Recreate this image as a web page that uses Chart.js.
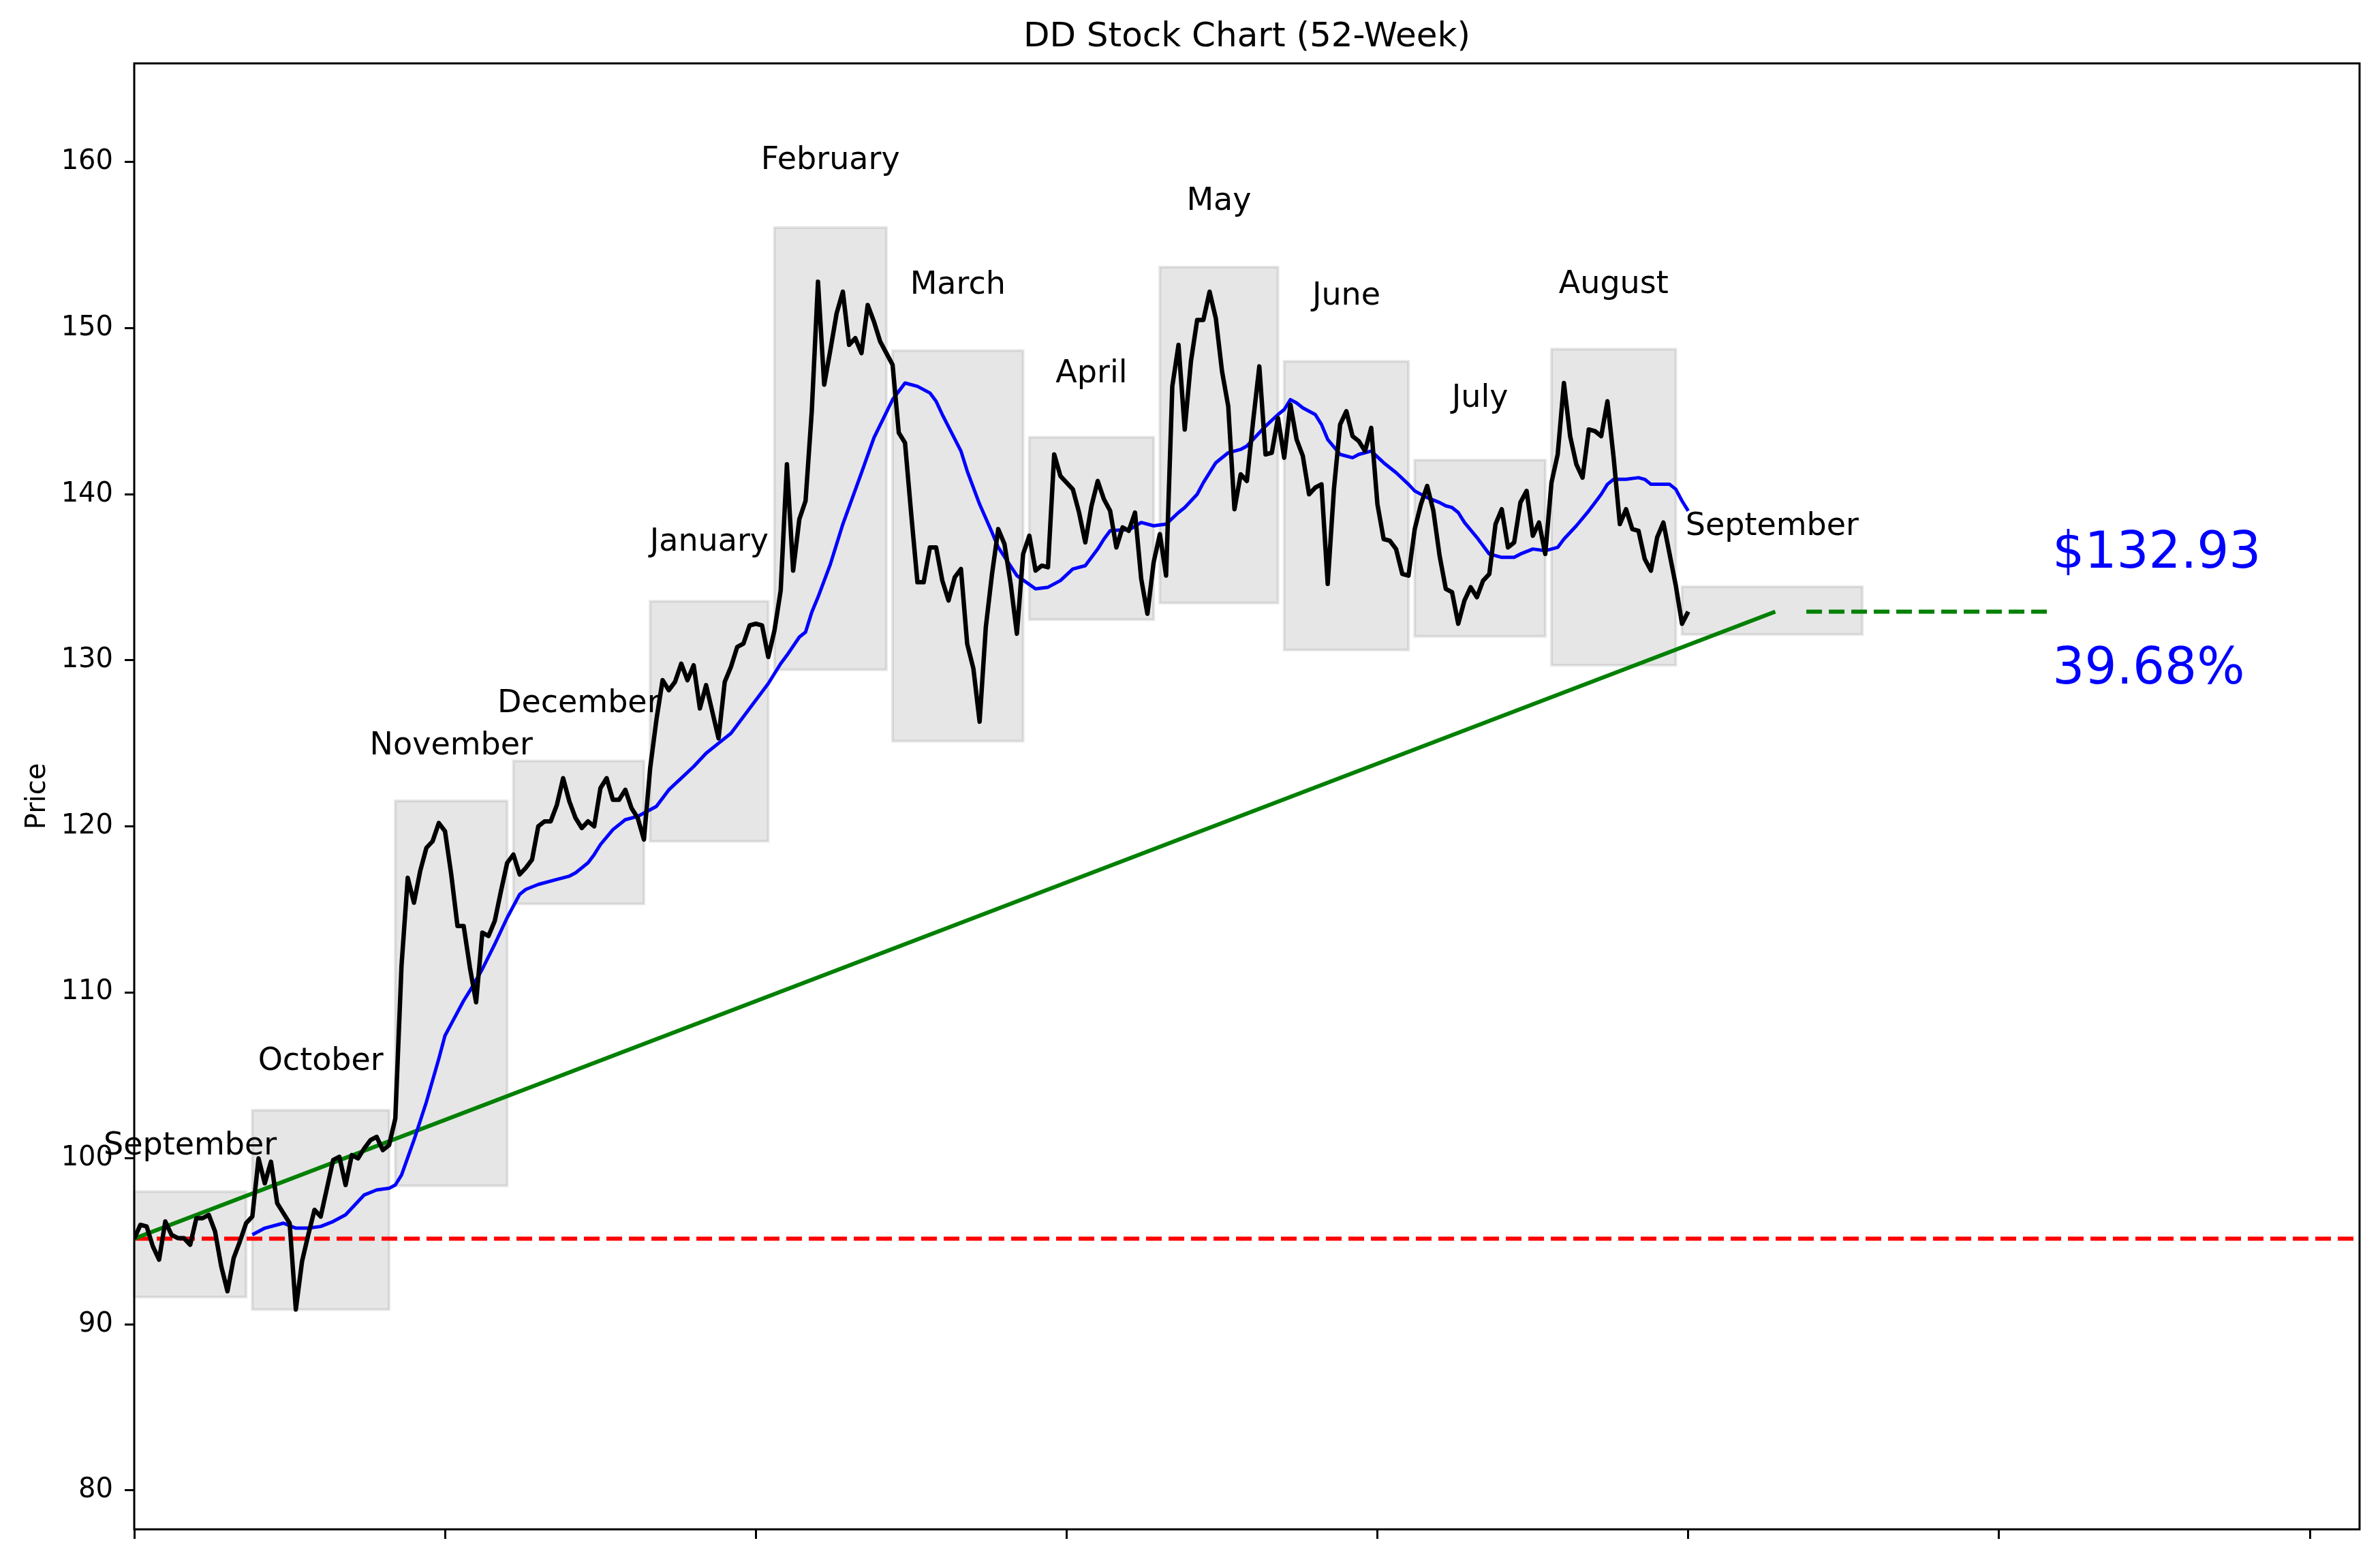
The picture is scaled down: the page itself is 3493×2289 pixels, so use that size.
<!DOCTYPE html>
<html lang="en">
<head>
    <meta charset="UTF-8">
    <title>DD Stock Chart (52-Week)</title>
    <script src="https://cdn.jsdelivr.net/npm/chart.js"></script>
    <style>
        body {
            margin: 0;
            background-color: white;
        }
        #stockChart {
            display: block;
        }
    </style>
</head>
<body>
    <canvas id="stockChart" width="3493" height="2289"></canvas>

    <script>
        // daily closes, one per trading day (index 0..250)
        const closePrices = [
            95.17, 96.0, 95.9, 94.7, 93.9, 96.2, 95.4, 95.2, 95.2, 94.8,
            96.4, 96.4, 96.6, 95.6, 93.5, 92.0, 94.0, 95.0, 96.1, 96.5,
            100.0, 98.5, 99.8, 97.3, 96.7, 96.1, 90.9, 93.8, 95.4, 96.9,
            96.5, 98.2, 99.9, 100.1, 98.4, 100.2, 100.0, 100.6, 101.1, 101.3,
            100.5, 100.8, 102.4, 111.6, 116.9, 115.4, 117.3, 118.7, 119.1, 120.2,
            119.7, 117.1, 114.0, 114.0, 111.5, 109.4, 113.6, 113.4, 114.3, 116.1,
            117.8, 118.3, 117.1, 117.5, 118.0, 120.0, 120.3, 120.3, 121.3, 122.9,
            121.5, 120.5, 119.9, 120.3, 120.0, 122.3, 122.9, 121.6, 121.6, 122.2,
            121.1, 120.5, 119.2, 123.5, 126.4, 128.8, 128.2, 128.7, 129.8, 128.8,
            129.7, 127.1, 128.5, 126.9, 125.3, 128.7, 129.6, 130.8, 131.0, 132.1,
            132.2, 132.1, 130.2, 131.8, 134.2, 141.8, 135.4, 138.5, 139.6, 145.0,
            152.8, 146.6, 148.7, 150.9, 152.2, 149.0, 149.4, 148.5, 151.4, 150.4,
            149.2, 148.5, 147.8, 143.7, 143.1, 138.8, 134.7, 134.7, 136.8, 136.8,
            134.8, 133.6, 135.0, 135.5, 131.0, 129.5, 126.3, 132.0, 135.2, 137.9,
            137.0, 134.6, 131.6, 136.4, 137.5, 135.4, 135.7, 135.6, 142.4, 141.1,
            140.7, 140.3, 138.9, 137.1, 139.3, 140.8, 139.7, 139.0, 136.8, 138.0,
            137.8, 138.9, 134.9, 132.8, 135.9, 137.6, 135.1, 146.5, 149.0, 143.9,
            148.0, 150.5, 150.5, 152.2, 150.6, 147.4, 145.3, 139.1, 141.2, 140.8,
            144.4, 147.7, 142.4, 142.5, 144.6, 142.2, 145.4, 143.3, 142.3, 140.0,
            140.4, 140.6, 134.6, 140.3, 144.2, 145.0, 143.5, 143.2, 142.6, 144.0,
            139.4, 137.3, 137.2, 136.7, 135.2, 135.1, 137.9, 139.4, 140.5, 139.0,
            136.3, 134.3, 134.1, 132.2, 133.6, 134.4, 133.8, 134.8, 135.2, 138.2,
            139.1, 136.8, 137.1, 139.5, 140.2, 137.5, 138.3, 136.4, 140.7, 142.4,
            146.7, 143.5, 141.8, 141.0, 143.9, 143.8, 143.5, 145.6, 142.2, 138.2,
            139.1, 137.9, 137.8, 136.1, 135.4, 137.4, 138.3, 136.4, 134.5, 132.2,
            132.93
        ];

        // 20-day moving average
        const maIdx = [
            19, 21, 24, 26, 28, 30, 32, 34, 36, 37, 39, 41, 42, 43, 45, 47, 49, 50, 51, 53,
            54, 56, 58, 60, 62, 63, 65, 68, 70, 71, 73, 74, 75, 77, 79, 81, 82, 84, 86, 88,
            90, 92, 94, 96, 99, 102, 104, 105, 107, 108, 109, 110, 112, 114, 117, 119, 122, 124, 126, 128,
            129, 130, 133, 134, 136, 138, 139, 142, 145, 147, 149, 151, 153, 155, 156, 157, 159, 160, 162, 164,
            166, 168, 169, 171, 172, 174, 176, 178, 179, 182, 184, 185, 186, 187, 188, 190, 191, 192, 194, 196,
            197, 199, 201, 203, 205, 206, 208, 210, 211, 212, 213, 214, 216, 217, 218, 220, 222, 223, 225, 227,
            229, 230, 231, 232, 234, 235, 236, 237, 238, 240, 242, 243, 244, 247, 248, 249, 250
        ];
        const maVal = [
            95.4, 95.8, 96.1, 95.8, 95.8, 95.9, 96.2, 96.6, 97.4, 97.8, 98.1, 98.2, 98.4, 99.0, 101.1, 103.4, 106.0, 107.4, 108.1, 109.5,
            110.1, 111.4, 112.9, 114.5, 115.9, 116.2, 116.5, 116.8, 117.0, 117.2, 117.8, 118.3, 118.9, 119.8, 120.4, 120.6, 120.8, 121.2, 122.2, 122.9,
            123.6, 124.4, 125.0, 125.6, 127.1, 128.6, 129.8, 130.3, 131.4, 131.7, 132.9, 133.8, 135.8, 138.2, 141.3, 143.4, 145.7, 146.7, 146.5, 146.1,
            145.6, 144.8, 142.6, 141.4, 139.4, 137.7, 136.8, 135.1, 134.3, 134.4, 134.8, 135.5, 135.7, 136.7, 137.3, 137.8, 137.85, 137.85, 138.3, 138.1,
            138.2, 138.9, 139.2, 140.0, 140.7, 141.9, 142.5, 142.7, 142.9, 144.1, 144.8, 145.1, 145.7, 145.5, 145.2, 144.8, 144.2, 143.3, 142.4, 142.2,
            142.4, 142.6, 141.9, 141.3, 140.6, 140.2, 139.8, 139.5, 139.3, 139.2, 138.9, 138.3, 137.4, 136.9, 136.4, 136.2, 136.2, 136.4, 136.7, 136.6,
            136.8, 137.3, 137.7, 138.1, 139.0, 139.5, 140.0, 140.6, 140.9, 140.9, 141.0, 140.9, 140.6, 140.6, 140.3, 139.6, 139.0
        ];

        // month boxes (first day, last day, low, high) and label heights
        const monthNames = ['September', 'October', 'November', 'December', 'January', 'February',
            'March', 'April', 'May', 'June', 'July', 'August', 'September'];
        const boxStart = [0, 19, 42, 61, 83, 103, 122, 144, 165, 185, 206, 228, 249];
        const boxEnd = [18, 41, 60, 82, 102, 121, 143, 164, 184, 205, 227, 248, 278];
        const boxLow = [91.65, 90.9, 98.35, 115.33, 119.1, 129.43, 125.13, 132.45, 133.45, 130.62, 131.44, 129.7, 131.56];
        const boxHigh = [98.0, 102.9, 121.53, 123.94, 133.55, 156.06, 148.65, 143.43, 153.68, 148.0, 142.06, 148.74, 134.43];
        const labelY = [100.94, 106.0, 125.03, 127.55, 137.27, 160.27, 152.75, 147.41, 157.8, 152.1, 145.96, 152.8, 138.22];

        // trend line, projection and the two big captions
        const trendX = [0, 264];
        const projX = [269, 308];
        const captionX = 308.6;
        const captionY = [135.57, 128.6];
        const startPrice = closePrices[0];
        const lastPrice = closePrices[closePrices.length - 1];

        const xTicks = [0, 50, 100, 150, 200, 250, 300, 350];
        const yTicks = [80, 90, 100, 110, 120, 130, 140, 150, 160];

        const FONT = 'DejaVu Sans';
        const CAP = 0.3645; // half cap height of DejaVu Sans, in em

        const overlayPlugin = {
            id: 'overlay',
            beforeDatasetsDraw(chart) {
                const { ctx, scales: { x, y } } = chart;
                ctx.save();
                ctx.fillStyle = 'rgba(128,128,128,0.2)';
                ctx.strokeStyle = 'rgba(128,128,128,0.2)';
                ctx.lineWidth = 4;
                for (let i = 0; i < boxStart.length; i++) {
                    const x0 = x.getPixelForValue(boxStart[i]);
                    const x1 = x.getPixelForValue(boxEnd[i]);
                    const y0 = y.getPixelForValue(boxHigh[i]);
                    const y1 = y.getPixelForValue(boxLow[i]);
                    ctx.fillRect(x0, y0, x1 - x0, y1 - y0);
                    ctx.strokeRect(x0, y0, x1 - x0, y1 - y0);
                }
                ctx.restore();
            },
            afterDatasetsDraw(chart) {
                const { ctx, chartArea, scales: { x, y } } = chart;
                ctx.save();
                // month names above each box
                ctx.fillStyle = '#000';
                ctx.font = '46px "' + FONT + '"';
                ctx.textAlign = 'center';
                ctx.textBaseline = 'alphabetic';
                for (let i = 0; i < monthNames.length; i++) {
                    const cx = x.getPixelForValue((boxStart[i] + boxEnd[i]) / 2);
                    ctx.fillText(monthNames[i], cx, y.getPixelForValue(labelY[i]) + CAP * 46);
                }
                // last price and change
                const pct = ((lastPrice / startPrice - 1) * 100).toFixed(2) + '%';
                ctx.fillStyle = '#0000ff';
                ctx.font = '74px "' + FONT + '"';
                ctx.textAlign = 'left';
                ctx.fillText('$' + lastPrice.toFixed(2), x.getPixelForValue(captionX), y.getPixelForValue(captionY[0]));
                ctx.fillText(pct, x.getPixelForValue(captionX), y.getPixelForValue(captionY[1]));
                // frame
                ctx.strokeStyle = '#000';
                ctx.lineWidth = 3;
                ctx.strokeRect(chartArea.left, chartArea.top,
                    chartArea.right - chartArea.left, chartArea.bottom - chartArea.top);
                // title centred over the plot area
                ctx.fillStyle = '#000';
                ctx.font = '50px "' + FONT + '"';
                ctx.textAlign = 'center';
                ctx.fillText('DD Stock Chart (52-Week)', (chartArea.left + chartArea.right) / 2, 68);
                ctx.restore();
            }
        };

        const ctx = document.getElementById('stockChart').getContext('2d');
        const chart = new Chart(ctx, {
            type: 'line',
            data: {
                datasets: [
                    {
                        label: 'Close',
                        data: closePrices.map((v, i) => ({ x: i, y: v })),
                        borderColor: '#000000',
                        borderWidth: 6.5,
                        borderJoinStyle: 'round'
                    },
                    {
                        label: '20-day MA',
                        data: maIdx.map((d, i) => ({ x: d, y: maVal[i] })),
                        borderColor: '#0000ff',
                        borderWidth: 5,
                        borderJoinStyle: 'round'
                    },
                    {
                        label: 'Trend',
                        data: [{ x: trendX[0], y: startPrice }, { x: trendX[1], y: lastPrice }],
                        borderColor: '#008000',
                        borderWidth: 6
                    },
                    {
                        label: 'Projection',
                        data: [{ x: projX[0], y: lastPrice }, { x: projX[1], y: lastPrice }],
                        borderColor: '#008000',
                        borderWidth: 6,
                        borderDash: [23, 10]
                    },
                    {
                        label: 'Start price',
                        data: [{ x: 0, y: startPrice }, { x: 358, y: startPrice }],
                        borderColor: '#ff0000',
                        borderWidth: 6,
                        borderDash: [23, 10]
                    }
                ]
            },
            options: {
                responsive: false,
                animation: false,
                devicePixelRatio: 1,
                layout: {
                    padding: { left: 10, right: 30, top: 93, bottom: 25 }
                },
                elements: {
                    point: { radius: 0 },
                    line: { tension: 0, fill: false }
                },
                plugins: {
                    legend: { display: false },
                    tooltip: { enabled: false },
                    title: { display: false }
                },
                scales: {
                    x: {
                        type: 'linear',
                        min: 0,
                        max: 358,
                        border: { display: false },
                        grid: { drawOnChartArea: false, drawTicks: true, tickLength: 14, color: '#000', lineWidth: 3 },
                        ticks: { display: false },
                        afterBuildTicks: s => { s.ticks = xTicks.map(v => ({ value: v })); },
                        afterFit: s => { s.height = 20; }
                    },
                    y: {
                        min: 77.66,
                        max: 165.95,
                        border: { display: false },
                        grid: { drawOnChartArea: false, drawTicks: true, tickLength: 14, color: '#000', lineWidth: 3 },
                        ticks: { color: '#000', font: { family: FONT, size: 40 }, padding: 17 },
                        afterBuildTicks: s => { s.ticks = yTicks.map(v => ({ value: v })); },
                        afterFit: s => { s.width = 187; },
                        title: {
                            display: true,
                            text: 'Price',
                            color: '#000',
                            font: { family: FONT, size: 40, lineHeight: 1.2 },
                            padding: { top: 22, bottom: 0 }
                        }
                    }
                }
            },
            plugins: [overlayPlugin]
        });
    </script>
</body>
</html>
